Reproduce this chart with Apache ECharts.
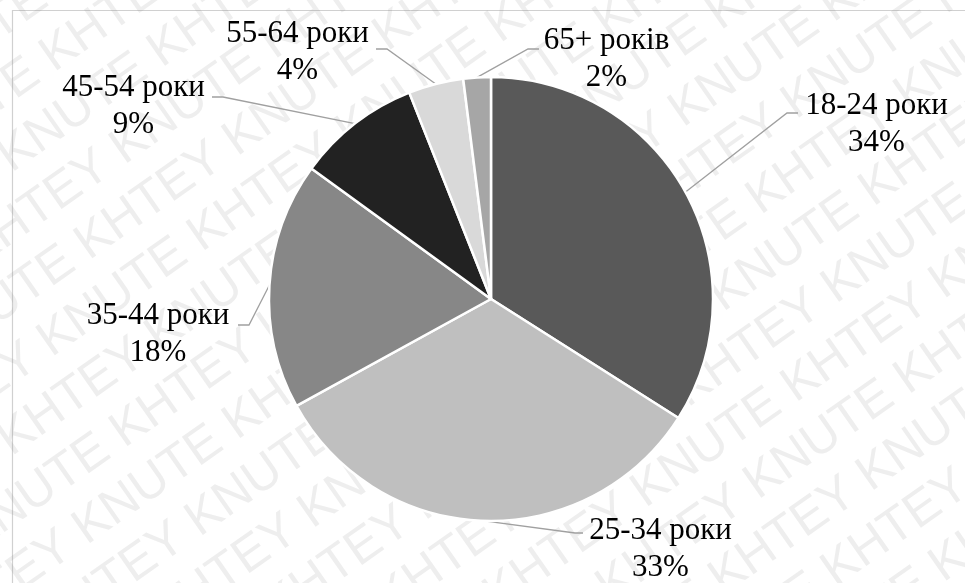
<!DOCTYPE html>
<html>
<head>
<meta charset="utf-8">
<script src="https://cdn.jsdelivr.net/npm/echarts@6/dist/echarts.min.js"></script>
<style>
  html, body { margin: 0; padding: 0; background: #ffffff; }
  #chart { width: 965px; height: 583px; }
</style>
</head>
<body>
<div id="chart"></div>
<script>
// Age structure of respondents
const ageGroups = ['18-24 роки', '25-34 роки', '35-44 роки', '45-54 роки', '55-64 роки', '65+ років'];
const shares = [34, 33, 18, 9, 4, 2];

const sliceColors = ['#595959', '#bfbfbf', '#878787', '#222222', '#d9d9d9', '#a6a6a6'];

// Label placement: text centre x, first-line baseline y, leader elbow and end
const labelPlacement = [
  { cx: 876.5, base: 116, elbow: [787, 113], end: [798, 113] },
  { cx: 660.5, base: 541, elbow: [575, 533], end: [583, 533] },
  { cx: 158,   base: 326, elbow: [249, 325], end: [238, 325] },
  { cx: 133.5, base: 98,  elbow: [223, 97],  end: [212, 97] },
  { cx: 297.5, base: 44,  elbow: [387, 49],  end: [376, 49] },
  { cx: 606.5, base: 51,  elbow: [528, 49],  end: [539, 49] }
];

const LABEL_FONT = 'Liberation Serif';
const LABEL_SIZE = 31;
const LABEL_LINE_H = 37;

// Diagonal watermark rows
const watermarkRows = [];
for (let i = -16; i <= 16; i++) {
  watermarkRows.push({
    type: 'text',
    x: -1100 + ((i * 97) % 370),
    y: i * 58,
    style: {
      text: 'KNUTE KHTEY '.repeat(9),
      font: '50px "Liberation Sans"',
      fill: 'rgba(120,120,120,0.13)'
    }
  });
}

const data = ageGroups.map((name, i) => ({
  name: name,
  value: shares[i],
  itemStyle: { color: sliceColors[i] }
}));

const chart = echarts.init(document.getElementById('chart'), null, { renderer: 'canvas' });
chart.setOption({
  animation: false,
  backgroundColor: '#ffffff',
  graphic: [
    {
      type: 'rect',
      z: 0,
      silent: true,
      shape: { x: 12.5, y: 10.5, width: 1000, height: 620 },
      style: { fill: 'none', stroke: '#d0d0d0', lineWidth: 1.2 }
    },
    {
      type: 'group',
      z: 100,
      silent: true,
      x: 482,
      y: 292,
      rotation: 35 * Math.PI / 180,
      children: watermarkRows
    }
  ],
  series: [{
    type: 'pie',
    center: [491, 299],
    radius: 222,
    startAngle: 90,
    clockwise: true,
    avoidLabelOverlap: false,
    percentPrecision: 0,
    itemStyle: { borderColor: '#ffffff', borderWidth: 2.5 },
    emphasis: { disabled: true },
    label: {
      show: true,
      position: 'outside',
      formatter: p => p.name + '\n' + p.percent + '%',
      fontFamily: LABEL_FONT,
      fontSize: LABEL_SIZE,
      lineHeight: LABEL_LINE_H,
      color: '#000000',
      align: 'center'
    },
    labelLine: {
      show: true,
      length: 20,
      length2: 10,
      lineStyle: { color: '#a0a0a0', width: 1.3 }
    },
    labelLayout: function (params) {
      const p = labelPlacement[params.dataIndex];
      const anchor = params.labelLinePoints ? params.labelLinePoints[0] : p.elbow;
      return {
        x: p.cx,
        y: p.base - 29,
        align: 'center',
        verticalAlign: 'top',
        labelLinePoints: [anchor, p.elbow, p.end]
      };
    },
    data: data
  }]
});
</script>
</body>
</html>
